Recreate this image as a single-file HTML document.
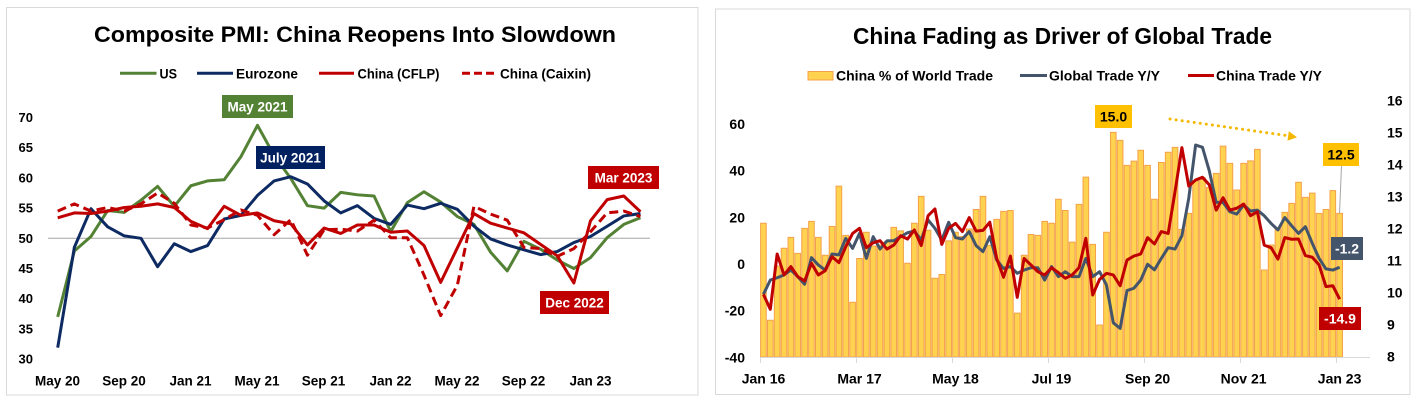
<!DOCTYPE html>
<html>
<head>
<meta charset="utf-8">
<style>
html,body{margin:0;padding:0;background:#fff;}
svg{display:block;}
text{font-family:"Liberation Sans",Arial,sans-serif;font-weight:bold;fill:#000;}
.ns{vector-effect:non-scaling-stroke;}
</style>
</head>
<body>
<svg width="1419" height="403" viewBox="0 0 1419 403" xmlns="http://www.w3.org/2000/svg">
<rect x="0" y="0" width="1419" height="403" fill="#fff"/>
<!-- ================= LEFT CHART ================= -->
<rect x="6.5" y="7.5" width="691.5" height="387.5" fill="#fff" stroke="#D9D9D9" stroke-width="1"/>
<text x="94" y="42" font-size="22.5" textLength="522" lengthAdjust="spacingAndGlyphs">Composite PMI: China Reopens Into Slowdown</text>

<!-- legend -->
<line x1="120" y1="73.3" x2="156.5" y2="73.3" stroke="#548235" stroke-width="3"/>
<text x="159.5" y="78.3" font-size="13.5" textLength="17.5" lengthAdjust="spacingAndGlyphs">US</text>
<line x1="197" y1="73.3" x2="233" y2="73.3" stroke="#0D2B62" stroke-width="3"/>
<text x="236" y="78.3" font-size="13.5" textLength="62" lengthAdjust="spacingAndGlyphs">Eurozone</text>
<line x1="319" y1="73.3" x2="354" y2="73.3" stroke="#C00000" stroke-width="3"/>
<text x="357.5" y="78.3" font-size="13.5" textLength="82" lengthAdjust="spacingAndGlyphs">China (CFLP)</text>
<line x1="462" y1="73.3" x2="494" y2="73.3" stroke="#C00000" stroke-width="3" stroke-dasharray="8,4"/>
<text x="500" y="78.3" font-size="13.5" textLength="91" lengthAdjust="spacingAndGlyphs">China (Caixin)</text>

<!-- y axis labels -->
<g font-size="13" text-anchor="end">
<text x="33" y="122">70</text>
<text x="33" y="152.2">65</text>
<text x="33" y="182.4">60</text>
<text x="33" y="212.6">55</text>
<text x="33" y="242.8">50</text>
<text x="33" y="273">45</text>
<text x="33" y="303.2">40</text>
<text x="33" y="333.4">35</text>
<text x="33" y="363.6">30</text>
</g>
<!-- x axis labels -->
<g font-size="13.5" text-anchor="middle">
<text x="57.5" y="385.5">May 20</text>
<text x="124" y="385.5">Sep 20</text>
<text x="190.5" y="385.5">Jan 21</text>
<text x="257" y="385.5">May 21</text>
<text x="323.5" y="385.5">Sep 21</text>
<text x="390.5" y="385.5">Jan 22</text>
<text x="457" y="385.5">May 22</text>
<text x="523.5" y="385.5">Sep 22</text>
<text x="590.5" y="385.5">Jan 23</text>
</g>

<!-- 50 line -->
<line x1="48" y1="238.3" x2="650" y2="238.3" stroke="#A6A6A6" stroke-width="1"/>

<!-- series -->
<g transform="translate(57.7,540.3) scale(16.65,-6.04)" fill="none" stroke-width="3" stroke-linejoin="round">
<polyline class="ns" stroke="#548235" points="0,37 1,47.9 2,50.3 3,54.6 4,54.3 5,56.3 6,58.6 7,55.3 8,58.7 9,59.5 10,59.7 11,63.5 12,68.7 13,63.7 14,59.9 15,55.4 16,55 17,57.6 18,57.2 19,57 20,51.1 21,55.9 22,57.7 23,56 24,53.6 25,52.3 26,47.7 27,44.6 28,49.5 29,48.2 30,46.4 31,45 32,46.8 33,50.1 34,52.3 35,53.4"/>
<polyline class="ns" stroke="#0D2B62" points="0,31.9 1,48.5 2,54.9 3,51.9 4,50.4 5,50 6,45.3 7,49.1 8,47.8 9,48.8 10,53.2 11,53.8 12,57.1 13,59.5 14,60.2 15,59 16,56.2 17,54.2 18,55.4 19,53.3 20,52.3 21,55.5 22,54.9 23,55.8 24,54.8 25,52 26,49.9 27,48.9 28,48.1 29,47.3 30,47.8 31,49.3 32,50.3 33,52 34,53.7 35,54.1"/>
<polyline class="ns" stroke="#C00000" points="0,53.4 1,54.2 2,54.1 3,54.5 4,55.1 5,55.3 6,55.7 7,55.1 8,52.8 9,51.6 10,55.3 11,53.8 12,54.2 13,52.9 14,52.4 15,48.9 16,51.7 17,50.8 18,52.2 19,52.2 20,51 21,51.2 22,48.8 23,42.7 24,48.4 25,54.1 26,52.5 27,51.7 28,50.9 29,49 30,47.1 31,42.6 32,52.9 33,56.4 34,57 35,54.4"/>
</g>
<polyline fill="none" stroke="#C00000" stroke-width="3" stroke-dasharray="9,5" stroke-linejoin="round" points="57.7,211.1 74.35,203.9 91,211.1 107.65,207.5 124.3,211.1 140.95,203.9 157.6,193 174.25,203.3 190.9,225 207.55,228 224.2,219.6 240.85,209.9 257.5,215.3 274.15,234.7 290.8,219.6 307.45,255.2 324.1,229.8 340.75,229.2 357.4,231.1 374.05,220.2 390.7,237.7 407.35,237.7 424,275.1 440.65,315.6 457.3,285.4 473.95,206.3 490.6,214.1 507.25,220.2 523.9,247.4 540.55,248.6 557.2,256.4 573.85,248.6 590.5,231.7 607.15,212.9 623.8,211.1 640.45,216.6"/>

<!-- callouts -->
<rect x="222" y="95" width="71" height="23" fill="#548235"/>
<text x="257.5" y="111.5" font-size="13.5" text-anchor="middle" style="fill:#fff">May 2021</text>
<rect x="256" y="146" width="69" height="23" fill="#002060"/>
<text x="290.5" y="162.5" font-size="13.5" text-anchor="middle" style="fill:#fff">July 2021</text>
<rect x="588" y="166" width="71" height="23" fill="#C00000"/>
<text x="623.5" y="182.5" font-size="13.5" text-anchor="middle" style="fill:#fff">Mar 2023</text>
<rect x="540" y="291" width="69" height="23" fill="#C00000"/>
<text x="574.5" y="307.5" font-size="13.5" text-anchor="middle" style="fill:#fff">Dec 2022</text>

<!-- ================= RIGHT CHART ================= -->
<rect x="715.5" y="9" width="694.5" height="385.5" fill="#fff" stroke="#D9D9D9" stroke-width="1"/>
<text x="853" y="44" font-size="23.5" textLength="419" lengthAdjust="spacingAndGlyphs">China Fading as Driver of Global Trade</text>

<!-- legend -->
<rect x="808" y="71.5" width="25" height="8.5" fill="#FFD34F" stroke="#F4A14A" stroke-width="1"/>
<text x="836" y="80.3" font-size="13.5" textLength="157" lengthAdjust="spacingAndGlyphs">China % of World Trade</text>
<line x1="1020" y1="75.5" x2="1047" y2="75.5" stroke="#44546A" stroke-width="3"/>
<text x="1049" y="80.3" font-size="13.5" textLength="111" lengthAdjust="spacingAndGlyphs">Global Trade Y/Y</text>
<line x1="1188" y1="75.5" x2="1214" y2="75.5" stroke="#C00000" stroke-width="3"/>
<text x="1216" y="80.3" font-size="13.5" textLength="106" lengthAdjust="spacingAndGlyphs">China Trade Y/Y</text>

<!-- left axis labels -->
<g font-size="14" text-anchor="end">
<text x="745" y="129">60</text>
<text x="745" y="175.7">40</text>
<text x="745" y="222.3">20</text>
<text x="745" y="269">0</text>
<text x="745" y="315.7">-20</text>
<text x="745" y="362.3">-40</text>
</g>
<!-- right axis labels -->
<g font-size="14" text-anchor="start">
<text x="1387" y="105.7">16</text>
<text x="1387" y="137.7">15</text>
<text x="1387" y="169.7">14</text>
<text x="1387" y="201.7">13</text>
<text x="1387" y="233.7">12</text>
<text x="1387" y="265.7">11</text>
<text x="1387" y="297.7">10</text>
<text x="1387" y="329.7">9</text>
<text x="1387" y="361.7">8</text>
</g>

<!-- bars -->
<g transform="translate(760,613) scale(6.86,-32)">
<path class="ns" fill="#FFD34F" stroke="#F4A14A" stroke-width="1" d="
M0.09,8V12.18h0.82V8z M1.09,8V9.15h0.82V8z M2.09,8V10.84h0.82V8z M3.09,8V11.4h0.82V8z M4.09,8V11.74h0.82V8z
M5.09,8V11.24h0.82V8z M6.09,8V12.02h0.82V8z M7.09,8V12.24h0.82V8z M8.09,8V11.74h0.82V8z M9.09,8V11.18h0.82V8z
M10.09,8V12.08h0.82V8z M11.09,8V13.34h0.82V8z M12.09,8V11.8h0.82V8z M13.09,8V9.71h0.82V8z M14.09,8V11.08h0.82V8z
M15.09,8V11.9h0.82V8z M16.09,8V11.47h0.82V8z M17.09,8V11.5h0.82V8z M18.09,8V11.6h0.82V8z M19.09,8V12.05h0.82V8z
M20.09,8V11.94h0.82V8z M21.09,8V10.93h0.82V8z M22.09,8V12.18h0.82V8z M23.09,8V13.02h0.82V8z M24.09,8V11.96h0.82V8z
M25.09,8V10.46h0.82V8z M26.09,8V10.58h0.82V8z M27.09,8V11.63h0.82V8z M28.09,8V11.9h0.82V8z M29.09,8V11.76h0.82V8z
M30.09,8V12h0.82V8z M31.09,8V12.61h0.82V8z M32.09,8V13.02h0.82V8z M33.09,8V11.49h0.82V8z M34.09,8V12.3h0.82V8z
M35.09,8V12.55h0.82V8z M36.09,8V12.58h0.82V8z M37.09,8V9.37h0.82V8z M38.09,8V11.18h0.82V8z M39.09,8V11.83h0.82V8z
M40.09,8V11.8h0.82V8z M41.09,8V12.24h0.82V8z M42.09,8V12.18h0.82V8z M43.09,8V12.93h0.82V8z M44.09,8V12.58h0.82V8z
M45.09,8V11.59h0.82V8z M46.09,8V12.77h0.82V8z M47.09,8V13.62h0.82V8z M48.09,8V11.52h0.82V8z M49.09,8V9h0.82V8z
M50.09,8V11.9h0.82V8z M51.09,8V15.02h0.82V8z M52.09,8V14.77h0.82V8z M53.09,8V13.99h0.82V8z M54.09,8V14.12h0.82V8z
M55.09,8V14.46h0.82V8z M56.09,8V13.99h0.82V8z M57.09,8V12.93h0.82V8z M58.09,8V14.08h0.82V8z M59.09,8V14.4h0.82V8z
M60.09,8V14.55h0.82V8z M61.09,8V11.99h0.82V8z M62.09,8V12.49h0.82V8z M63.09,8V13.5h0.82V8z M64.09,8V13.6h0.82V8z
M65.09,8V13.3h0.82V8z M66.09,8V13.74h0.82V8z M67.09,8V14.59h0.82V8z M68.09,8V14.05h0.82V8z M69.09,8V13.22h0.82V8z
M70.09,8V14.05h0.82V8z M71.09,8V14.13h0.82V8z M72.09,8V14.49h0.82V8z M73.09,8V10.72h0.82V8z M74.09,8V11.5h0.82V8z
M75.09,8V12.02h0.82V8z M76.09,8V12.52h0.82V8z M77.09,8V12.8h0.82V8z M78.09,8V13.46h0.82V8z M79.09,8V12.99h0.82V8z
M80.09,8V13.12h0.82V8z M81.09,8V12.49h0.82V8z M82.09,8V12.61h0.82V8z M83.09,8V13.2h0.82V8z M84.09,8V12.49h0.82V8z"/>
</g>

<!-- x axis -->
<line x1="760" y1="357.5" x2="1370" y2="357.5" stroke="#D9D9D9" stroke-width="1"/>
<g stroke="#D9D9D9" stroke-width="1">
<line x1="760.5" y1="357" x2="760.5" y2="363"/>
<line x1="856.5" y1="357" x2="856.5" y2="363"/>
<line x1="952.5" y1="357" x2="952.5" y2="363"/>
<line x1="1048.5" y1="357" x2="1048.5" y2="363"/>
<line x1="1144.5" y1="357" x2="1144.5" y2="363"/>
<line x1="1240.5" y1="357" x2="1240.5" y2="363"/>
<line x1="1336.5" y1="357" x2="1336.5" y2="363"/>
</g>
<g font-size="14" text-anchor="middle">
<text x="763.5" y="383.3">Jan 16</text>
<text x="859.5" y="383.3">Mar 17</text>
<text x="955.5" y="383.3">May 18</text>
<text x="1051.5" y="383.3">Jul 19</text>
<text x="1147.6" y="383.3">Sep 20</text>
<text x="1243.6" y="383.3">Nov 21</text>
<text x="1339.6" y="383.3">Jan 23</text>
</g>

<!-- lines -->
<g transform="translate(763.43,264) scale(6.86,-2.333)" fill="none" stroke-width="3" stroke-linejoin="round">
<polyline class="ns" stroke="#44546A" points="0,-13 1,-6.9 2,-5.9 3,-4.7 4,-2.6 5,-5.4 6,-8.7 7,2.7 8,-0.4 9,-2.6 10,4.3 11,3.9 12,11 13,6.7 14,13.1 15,2.4 16,11.7 17,6.4 18,9.9 19,10 20,11.7 21,13.4 22,14.1 23,10.3 24,18.9 25,15.3 26,10.3 27,17.9 28,11.3 29,10.7 30,13.9 31,7.9 32,5.3 33,11.7 34,1.7 35,-1.9 36,-1.1 37,-4 38,-2.6 39,-1.6 40,-1.6 41,-6.9 42,-1.1 43,-5.4 44,-3.3 45,-5.4 46,-5.4 47,2.4 48,-5.4 49,-3.3 50,-9 51,-25.2 52,-27.6 53,-11.4 54,-10.4 55,-6.9 56,-0.1 57,-2.5 58,2.4 59,7 60,6.4 61,12.1 62,28.2 63,51 64,50 65,39.9 66,26.4 67,26.4 68,22.4 69,21.4 70,25.3 71,22.7 72,23.1 73,20.7 74,17.4 75,14.6 76,19.9 77,16.4 78,13.1 79,16 80,8.9 81,2.4 82,-2.1 83,-2.6 84,-1.4"/>
<polyline class="ns" stroke="#C00000" points="0,-13 1,-19.4 2,4.3 3,-4.7 4,-1.1 5,-5.4 6,-7.3 7,0.3 8,-4.7 9,-2.9 10,3.1 11,0.6 12,7.4 13,13.1 14,15.3 15,7 16,9.1 17,10 18,6.4 19,8.1 20,12.1 21,10.7 22,14.6 23,7.9 24,20.7 25,23.6 26,8.4 27,15.3 28,17.4 29,13.9 30,19.9 31,14.1 32,14.4 33,17.9 34,2.4 35,-5.7 36,3.4 37,-14.3 38,2.4 39,-0.4 40,-3.3 41,-4.7 42,-1.6 43,-3.7 44,-6.1 45,-4.7 46,-1.6 47,11 48,-13.3 49,-6.6 50,-4 51,-4.7 52,-9.3 53,1.7 54,3.4 55,4.3 56,11.3 57,8.6 58,13.9 59,13.1 60,31 61,49.9 62,33.4 63,36 64,37.2 65,33.9 66,23.1 67,28.4 68,23.1 69,23.9 70,25.7 71,20.7 72,22.4 73,8.1 74,7 75,2.1 76,11.3 77,10.6 78,10.7 79,3.6 80,2.9 81,-0.4 82,-9.7 83,-9.3 84,-15.1"/>
</g>

<!-- dotted arrow -->
<line x1="1170" y1="119" x2="1287" y2="135.6" stroke="#F5B800" stroke-width="3" stroke-linecap="round" stroke-dasharray="0.1,6"/>
<polygon points="1297,137.3 1287.5,140.8 1288.8,131.3" fill="#F5B800"/>

<!-- callouts -->
<rect x="1095" y="105" width="37" height="23" fill="#FFC000"/>
<text x="1113.5" y="121.5" font-size="14" text-anchor="middle">15.0</text>
<line x1="1341.5" y1="166" x2="1339.5" y2="213" stroke="#A6A6A6" stroke-width="1"/>
<rect x="1323" y="143" width="36" height="23" fill="#FFC000"/>
<text x="1341" y="159.5" font-size="14" text-anchor="middle">12.5</text>
<rect x="1331" y="237" width="32" height="23" fill="#44546A"/>
<text x="1347" y="253.5" font-size="14" text-anchor="middle" style="fill:#fff">-1.2</text>
<rect x="1319" y="307" width="42" height="23" fill="#C00000"/>
<text x="1340" y="323.5" font-size="14" text-anchor="middle" style="fill:#fff">-14.9</text>
</svg>
</body>
</html>
